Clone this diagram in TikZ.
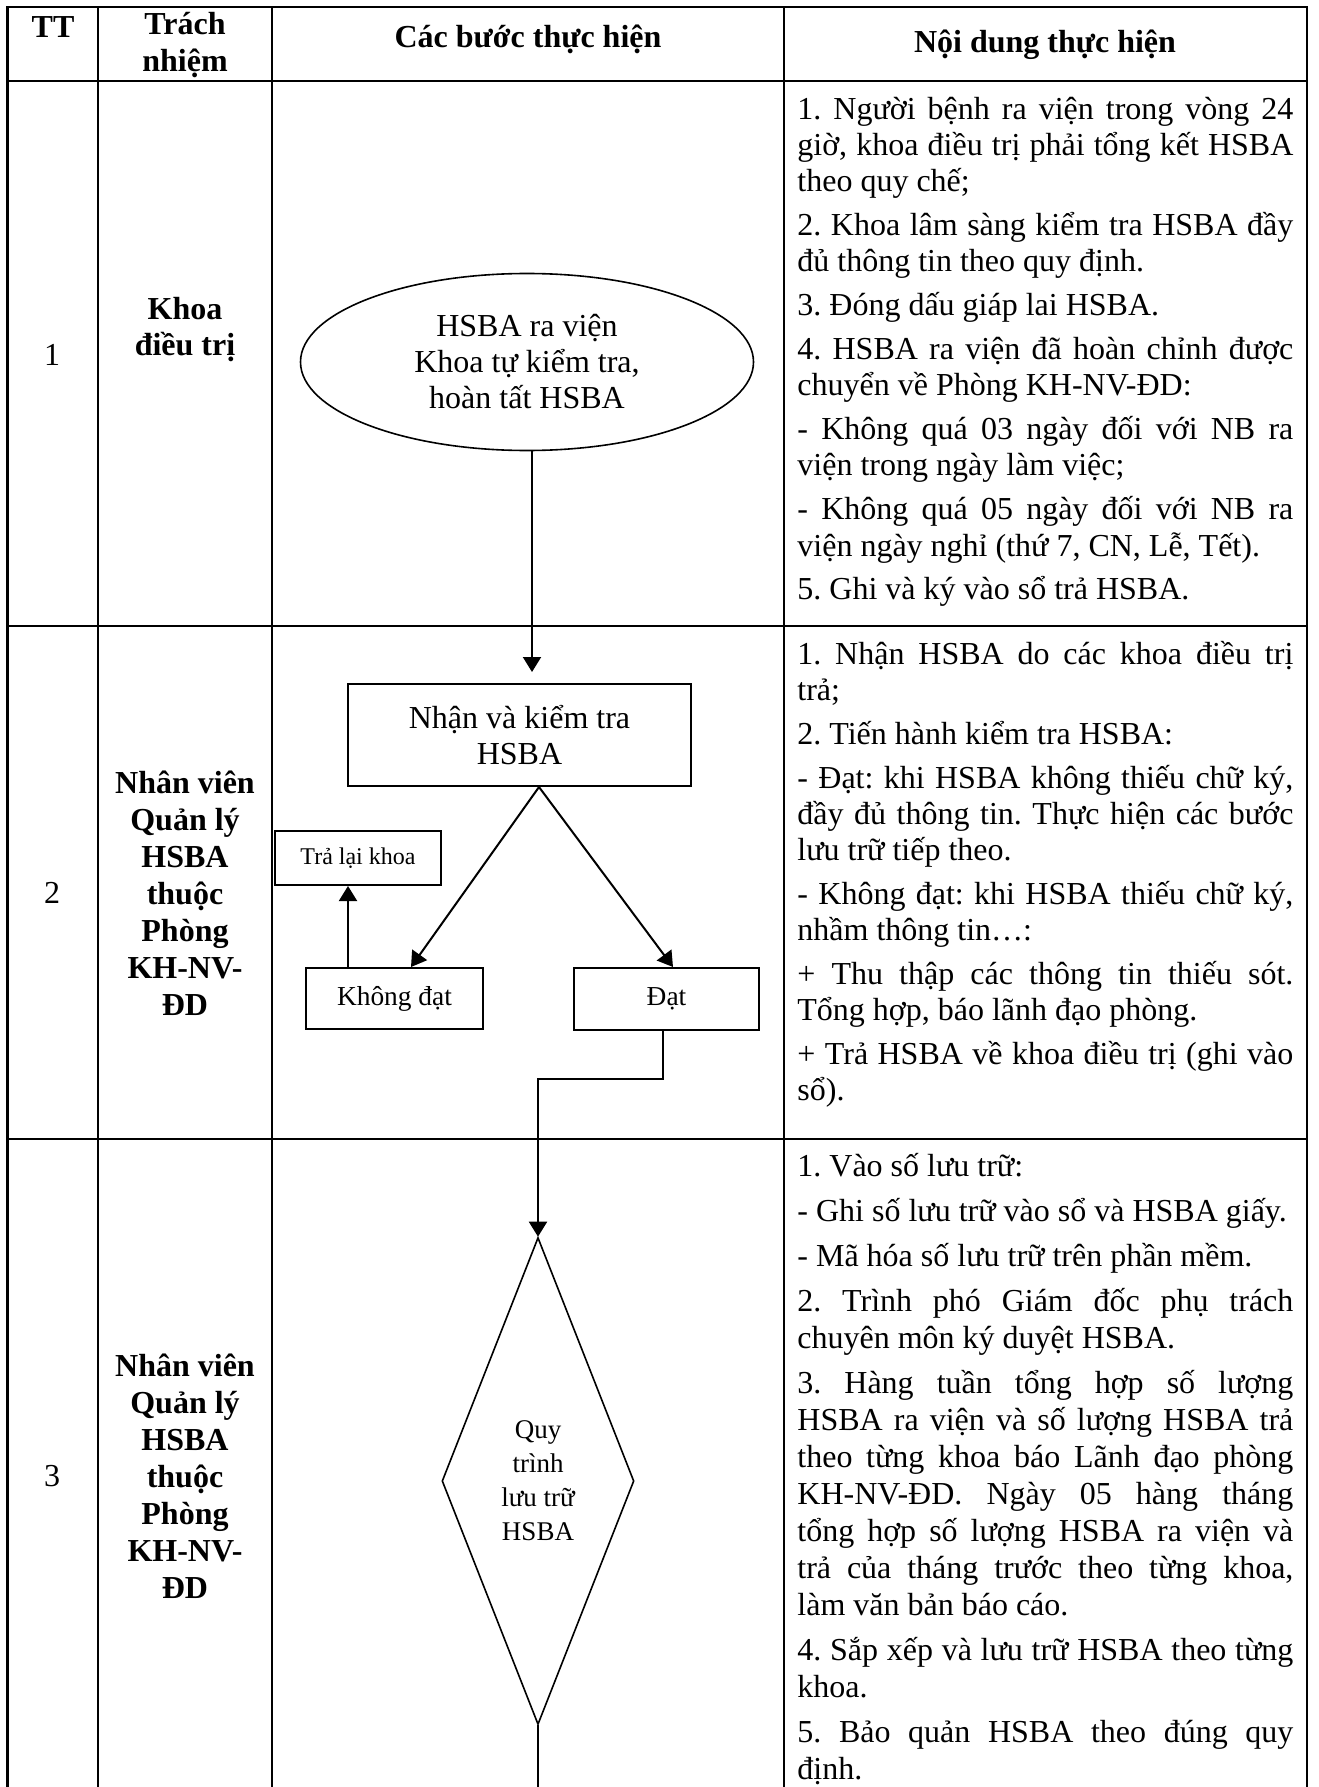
\documentclass[tikz,border=0pt]{standalone}
\usepackage{fontspec}
\setmainfont{Liberation Serif}
\usetikzlibrary{shapes.geometric}
\usetikzlibrary{arrows.meta}

\begin{document}
\begin{tikzpicture}[x=0.5pt, y=-0.5pt,
        khung/.style={line width=1.2pt, line cap=rect},
        hop/.style={draw, line width=1pt, align=center, font=\fontsize{16}{18}\selectfont},
        muiten/.style={-{Triangle[length=7.5pt,width=9pt]}, line width=1pt},
        dam/.style={align=center, font=\fontsize{16}{18.5}\selectfont\bfseries},
        so/.style={font=\fontsize{16}{18}\selectfont},
        noidung/.style={anchor=base west, inner sep=0pt, text width=248pt, align=justify,
            font=\fontsize{16}{18}\selectfont,
            execute at begin node={\frenchspacing\setlength{\parskip}{4pt}\hyphenpenalty=10000\exhyphenpenalty=10000}}]
                \path[fill=white] (0,0) rectangle (1318,1787);
                \useasboundingbox (0,0) rectangle (1318,1787);
                \foreach \x in {7.5,98,272,784,1307}
                    \draw[khung] (\x,7) -- (\x,1787);
                \foreach \y in {7,81,626,1139}
                    \draw[khung] (7.5,\y) -- (1307,\y);
                \node[dam] (tt) at (53,27) {TT};
                \node[dam] (trachnhiem) at (185,45) {Trách\\nhiệm};
                \node[dam] (cacbuoc) at (528,39) {Các bước thực hiện};
                \node[dam] (noidungth) at (1045,45) {Nội dung thực hiện};
                \node[so] (so1) at (52,355) {1};
                \node[so] (so2) at (52,893) {2};
                \node[so] (so3) at (52,1476) {3};
                \node[dam, font=\fontsize{16}{18}\selectfont\bfseries] (khoa) at (185,330) {Khoa\\điều trị};
                \node[dam] (nhanvien2) at (185,893) {Nhân viên\\Quản lý\\HSBA\\thuộc\\Phòng\\KH-NV-\\ĐD};
                \node[dam] (nhanvien3) at (185,1476) {Nhân viên\\Quản lý\\HSBA\\thuộc\\Phòng\\KH-NV-\\ĐD};
                \node[hop, ellipse, line width=0.8pt, minimum width=226.5pt, minimum height=88.5pt] (ravien) at (527,362) {HSBA ra viện\\Khoa tự kiểm tra,\\hoàn tất HSBA};
                \node[hop, minimum width=171.5pt, minimum height=51pt] (kiemtra) at (519.5,735) {Nhận và kiểm tra\\HSBA};
                \node[hop, font=\fontsize{12}{14}\selectfont, minimum width=83pt, minimum height=27pt] (tralai) at (358,858) {Trả lại khoa};
                \node[hop, font=\fontsize{13.7}{16}\selectfont, minimum width=88.5pt, minimum height=30.5pt] (khongdat) at (394.5,998.5) {Không đạt};
                \node[hop, font=\fontsize{13.7}{16}\selectfont, minimum width=92.5pt, minimum height=31pt] (dat) at (666.5,999) {Đạt};
                \node[hop, diamond, aspect=0.4, inner sep=0pt, line width=0.8pt, font=\fontsize{13.5}{17}\selectfont, minimum width=96pt, minimum height=243.5pt] (quytrinh) at (538,1481) {Quy\\trình\\lưu trữ\\HSBA};
                \draw[muiten, shorten >=5.5pt] ([xshift=2.5pt]ravien.south) -- ([xshift=6.25pt]kiemtra.north);
                \draw[muiten] ([xshift=9.75pt]kiemtra.south) -- ([xshift=8.25pt]khongdat.north);
                \draw[muiten] ([xshift=9.75pt]kiemtra.south) -- ([xshift=3.25pt]dat.north);
                \draw[muiten] ([xshift=-23.25pt]khongdat.north) -- ([xshift=-23.25pt]khongdat.north |- tralai.south);
                \coordinate (gap) at (538,1079);
                \draw[muiten] ([xshift=-1.75pt]dat.south) |- (gap) -- (quytrinh.north);
                \coordinate (cuoi) at (538,1787);
                \draw[line width=1pt] (quytrinh.south) -- (cuoi);
                \node[noidung] (nd1) at (797,120) {1. Người bệnh ra viện trong vòng 24\linebreak giờ, khoa điều trị phải tổng kết HSBA\linebreak theo quy chế;\par
                    2. Khoa lâm sàng kiểm tra HSBA đầy\linebreak đủ thông tin theo quy định.\par
                    3. Đóng dấu giáp lai HSBA.\par
                    4. HSBA ra viện đã hoàn chỉnh được\linebreak chuyển về Phòng KH-NV-ĐD:\par
                    - Không quá 03 ngày đối với NB ra\linebreak viện trong ngày làm việc;\par
                    - Không quá 05 ngày đối với NB ra\linebreak viện ngày nghỉ (thứ 7, CN, Lễ, Tết).\par
                    5. Ghi và ký vào sổ trả HSBA.};
                \node[noidung] (nd2) at (797,664) {1. Nhận HSBA do các khoa điều trị\linebreak trả;\par
                    2. Tiến hành kiểm tra HSBA:\par
                    - Đạt: khi HSBA không thiếu chữ ký,\linebreak đầy đủ thông tin. Thực hiện các bước\linebreak lưu trữ tiếp theo.\par
                    - Không đạt: khi HSBA thiếu chữ ký,\linebreak nhầm thông tin…:\par
                    + Thu thập các thông tin thiếu sót.\linebreak Tổng hợp, báo lãnh đạo phòng.\par
                    + Trả HSBA về khoa điều trị (ghi vào\linebreak sổ).};
                \node[noidung, font=\fontsize{16}{18.5}\selectfont] (nd3) at (797,1176) {1. Vào số lưu trữ:\par
                    - Ghi số lưu trữ vào sổ và HSBA giấy.\par
                    - Mã hóa số lưu trữ trên phần mềm.\par
                    2. Trình phó Giám đốc phụ trách\linebreak chuyên môn ký duyệt HSBA.\par
                    3. Hàng tuần tổng hợp số lượng\linebreak HSBA ra viện và số lượng HSBA trả\linebreak theo từng khoa báo Lãnh đạo phòng\linebreak KH-NV-ĐD. Ngày 05 hàng tháng\linebreak tổng hợp số lượng HSBA ra viện và\linebreak trả của tháng trước theo từng khoa,\linebreak làm văn bản báo cáo.\par
                    4. Sắp xếp và lưu trữ HSBA theo từng\linebreak khoa.\par
                    5. Bảo quản HSBA theo đúng quy\linebreak định.};
            \end{tikzpicture}
\end{document}
